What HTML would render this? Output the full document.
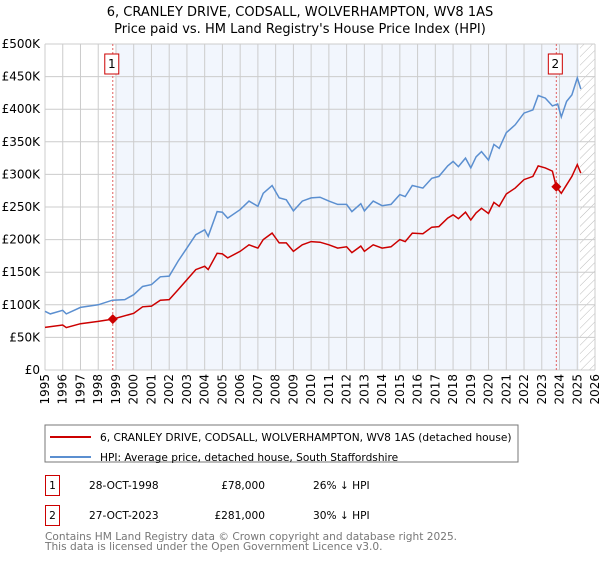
<!DOCTYPE html>
<html><head><meta charset="utf-8"><style>
body{margin:0;background:#fff;font-family:"Liberation Sans","DejaVu Sans",sans-serif;}
svg text{font-family:"DejaVu Sans","Liberation Sans",sans-serif;}
</style></head><body>
<svg id="c" width="600" height="560" xmlns="http://www.w3.org/2000/svg">
<defs><pattern id="hatch" width="6" height="6" patternUnits="userSpaceOnUse" patternTransform="rotate(45)"><line x1="0" y1="0" x2="0" y2="6" stroke="#bbb" stroke-width="1"/></pattern></defs>
<text x="300" y="16" text-anchor="middle" font-size="13">6, CRANLEY DRIVE, CODSALL, WOLVERHAMPTON, WV8 1AS</text>
<text x="300" y="33" text-anchor="middle" font-size="13">Price paid vs. HM Land Registry's House Price Index (HPI)</text>
<g id="plot"></g>
<rect x="45" y="425" width="473" height="37" fill="#fff" stroke="#777"/>
<line x1="50" y1="437" x2="91" y2="437" stroke="#cc0000" stroke-width="2"/>
<text x="100" y="441" font-size="10.6">6, CRANLEY DRIVE, CODSALL, WOLVERHAMPTON, WV8 1AS (detached house)</text>
<line x1="50" y1="457" x2="91" y2="457" stroke="#5b8fd0" stroke-width="2"/>
<text x="100" y="461" font-size="10.6">HPI: Average price, detached house, South Staffordshire</text>
<g>
<rect x="45.5" y="475.5" width="14" height="20" fill="#fff" stroke="#cc0000"/>
<text x="52.5" y="489" text-anchor="middle" font-size="10.6">1</text>
<text x="89" y="489" font-size="10.6">28-OCT-1998</text>
<text x="265" y="489" text-anchor="end" font-size="10.6">£78,000</text>
<text x="313" y="489" font-size="10.6">26% ↓ HPI</text></g>
<g>
<rect x="45.5" y="505.5" width="14" height="20" fill="#fff" stroke="#cc0000"/>
<text x="52.5" y="519" text-anchor="middle" font-size="10.6">2</text>
<text x="89" y="519" font-size="10.6">27-OCT-2023</text>
<text x="265" y="519" text-anchor="end" font-size="10.6">£281,000</text>
<text x="313" y="519" font-size="10.6">30% ↓ HPI</text></g>
<text x="45" y="540" font-size="10.6" fill="#777">Contains HM Land Registry data © Crown copyright and database right 2025.</text>
<text x="45" y="550" font-size="10.6" fill="#777">This data is licensed under the Open Government Licence v3.0.</text>
</svg>
<script>
const hpiYears=[1995,1995.3,1996,1996.2,1997,1998,1998.8,1999.5,2000,2000.5,2001,2001.5,2002,2002.5,2003,2003.5,2004,2004.2,2004.7,2005,2005.3,2006,2006.5,2007,2007.3,2007.8,2008.2,2008.6,2009,2009.5,2010,2010.5,2011,2011.5,2012,2012.3,2012.8,2013,2013.5,2014,2014.5,2015,2015.3,2015.7,2016.3,2016.8,2017.2,2017.7,2018,2018.3,2018.7,2019,2019.3,2019.6,2020,2020.3,2020.6,2021,2021.5,2022,2022.5,2022.8,2023.2,2023.6,2023.9,2024.1,2024.4,2024.7,2025,2025.2];
const hpiValues=[90,86,91.5,86,96,100,107,108,115.5,128,131,143,144,167,187,207.5,215,205,243,242,233,246,259,251,271,283,264,261,244,259,264,265,259,254,254,243,255,244,259,252,254,269,266,283,279,294,297,313,320,312,325,310,327,335,322,346,340,364,376,394,399,421,417,405,408,388,412,422,448,431];
const redYears=[1995,1996,1996.2,1997,1998,1998.82,2000,2000.5,2001,2001.5,2002,2002.5,2003,2003.5,2004,2004.2,2004.7,2005,2005.3,2006,2006.5,2007,2007.3,2007.8,2008.2,2008.6,2009,2009.5,2010,2010.5,2011,2011.5,2012,2012.3,2012.8,2013,2013.5,2014,2014.5,2015,2015.3,2015.7,2016.3,2016.8,2017.2,2017.7,2018,2018.3,2018.7,2019,2019.3,2019.6,2020,2020.3,2020.6,2021,2021.5,2022,2022.5,2022.8,2023.2,2023.6,2023.82,2024.1,2024.4,2024.7,2025,2025.2];
const redValues=[65.4,69,65,71,74.6,78,87,97,98,107,108,123,138.5,154,159,154,179,178,172,182,192,187,200,210,195,195,182,192,197,196,192,187,189,180,190,182,192,187,189,200,197,210,209,219,220,233,238,232,242,230,241,248,240,257,251,270,279,292,297,313,310,305,281,271,284,297,315,302];
const saleYears=[1998.82,2023.82];
const saleValues=[78,281];
const saleLabels=["1","2"];
const yTicks=[0,50,100,150,200,250,300,350,400,450,500];
const yTickLabels=["£0","£50K","£100K","£150K","£200K","£250K","£300K","£350K","£400K","£450K","£500K"];
const xTicks=[];for(let y=1995;y<=2026;y++)xTicks.push(y);

const X0=45,X1=595,Y0=370,Y1=44;
const xs=y=>X0+(y-1995)*(X1-X0)/31;
const ys=v=>Y0-v*(Y0-Y1)/500;
const NS="http://www.w3.org/2000/svg";
const g=document.getElementById('plot');
function mk(t,a){const e=document.createElementNS(NS,t);for(const k in a)e.setAttribute(k,a[k]);g.appendChild(e);return e;}
let e;
e=mk('rect',{x:X0,y:Y1,width:X1-X0,height:Y0-Y1,fill:'#fff'});


e=mk('rect',{x:xs(1999),y:Y1,width:xs(2025.1)-xs(1999),height:Y0-Y1,fill:'#f2f6fd'});


e=mk('rect',{x:xs(2025.15),y:Y1,width:X1-xs(2025.15),height:Y0-Y1,fill:'url(#hatch)'});


xTicks.forEach(y=>{
 e=mk('line',{x1:xs(y),x2:xs(y),y1:Y1,y2:Y0,stroke:'#ccc','stroke-width':1});
 
 
 e=mk('text',{x:0,y:0,transform:`translate(${xs(y)+4},${Y0+4}) rotate(-90)`,'text-anchor':'end','font-size':12});
 e.textContent=y;
 
 
});
yTicks.forEach((v,i)=>{
 e=mk('line',{x1:X0,x2:X1,y1:ys(v),y2:ys(v),stroke:'#ccc','stroke-width':1});
 
 
 e=mk('text',{x:X0-5,y:ys(v)+4,'text-anchor':'end','font-size':12});
 e.textContent=yTickLabels[i];
 
 
});
saleYears.forEach((y,i)=>{
 e=mk('line',{x1:xs(y),x2:xs(y),y1:Y1,y2:Y0,stroke:'#e06060','stroke-dasharray':'2,2','stroke-width':1});
 
 
 e=mk('rect',{x:xs(y)-8,y:54,width:14,height:20,fill:'#fff',stroke:'#cc0000'});
 
 
 e=mk('text',{x:xs(y)-1,y:68,'text-anchor':'middle','font-size':12});
 e.textContent=saleLabels[i];
 
 
});
const pts=(ya,va)=>ya.map((y,i)=>xs(y).toFixed(1)+','+ys(va[i]).toFixed(1)).join(' ');
e=mk('polyline',{points:pts(hpiYears,hpiValues),fill:'none',stroke:'#5b8fd0','stroke-width':1.5});


e=mk('polyline',{points:pts(redYears,redValues),fill:'none',stroke:'#cc0000','stroke-width':1.5});


saleYears.forEach((y,i)=>{
 const cx=xs(y),cy=ys(saleValues[i]);
 e=mk('polygon',{points:`${cx},${cy-5} ${cx+5},${cy} ${cx},${cy+5} ${cx-5},${cy}`,fill:'#cc0000'});
 
 
});
</script>
</body></html>
